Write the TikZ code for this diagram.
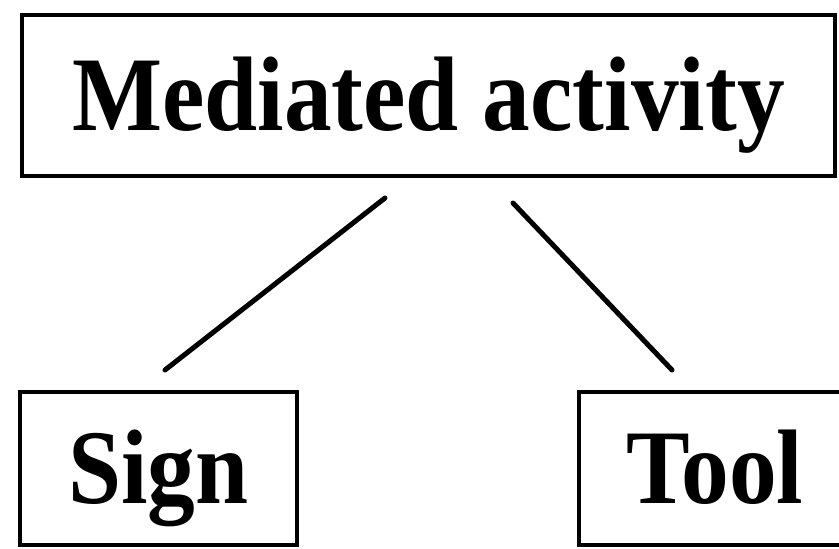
\documentclass[tikz,border=0pt]{standalone}
\usepackage{fontspec}
\setmainfont{Liberation Serif}
\usepackage{graphicx}
\tikzset{
  boxnode/.style={draw=black, line width=3.5pt, rectangle, inner sep=0pt,
    font=\fontsize{106}{114}\selectfont\bfseries, text height=70pt, text depth=0pt},
  linkline/.style={line width=5pt, line cap=round}
}
\newcommand{\nw}[1]{\scalebox{0.9}[1]{\bfseries #1}}
\begin{document}
\begin{tikzpicture}[x=1pt,y=-1pt]
  \useasboundingbox (0,0) rectangle (839,549);
  \clip (0,0) rectangle (839,549);
  \node[boxnode, minimum width=813pt, minimum height=161pt] (top) at (428.5,95.5) {\nw{Mediated activity}};
  \node[boxnode, minimum width=277pt, minimum height=153pt] (sign) at (158.5,468.5) {\nw{Sign}};
  \node[boxnode, minimum width=272pt, minimum height=153pt] (tool) at (715,468.5) {\nw{Tool}};
  \coordinate (la) at (385,198);
  \coordinate (lb) at (165,370);
  \coordinate (ra) at (513,203);
  \coordinate (rb) at (672,370);
  \draw[linkline] (la) -- (lb);
  \draw[linkline] (ra) -- (rb);
\end{tikzpicture}
\end{document}
